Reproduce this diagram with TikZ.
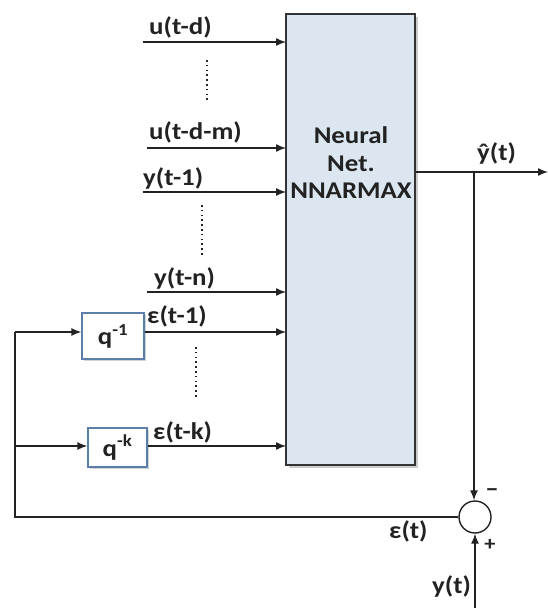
\documentclass[tikz,border=0pt]{standalone}
\usepackage{fontspec}
\setmainfont{Carlito}[FakeStretch=1.12]
\usetikzlibrary{arrows.meta,shadows}
\definecolor{boxblue}{HTML}{DCE6F1}
\definecolor{boxedge}{HTML}{5B7FA8}
\definecolor{ink}{HTML}{222222}
\tikzset{
  txt/.style={font=\fontsize{24}{28}\selectfont\bfseries, text=ink},
  lbl/.style={txt, inner sep=0pt, anchor=base west},
  sig/.style={line width=1.4pt, draw=ink, -{Latex[length=10pt,width=8pt]}},
  wire/.style={line width=1.4pt, draw=ink},
  dots/.style={line width=1.6pt, draw=ink, dash pattern=on 1.6pt off 3.2pt},
  qbox/.style={draw=boxedge, line width=1.3pt, fill=white, inner sep=0pt, txt,
               drop shadow={shadow xshift=2pt, shadow yshift=-2pt, opacity=0.35}},
}
\begin{document}
\begin{tikzpicture}[x=1pt,y=-1pt]
\useasboundingbox (0,0) rectangle (548,608);
% main box
\node[draw=black!80, line width=1.3pt, fill=boxblue, minimum width=129pt, minimum height=451pt, inner sep=0pt,
      drop shadow={shadow xshift=3pt, shadow yshift=-3pt, opacity=0.4}] (nn) at (350.5,239.5) {};
\node[align=center, txt, font=\fontsize{24}{27.5}\selectfont\bfseries] (nntext) at (351,163) {Neural\\Net.\\NNARMAX};
% input coordinates
\coordinate (a1s) at (143,42);  \coordinate (a1e) at (286,42);
\coordinate (a2s) at (147,148); \coordinate (a2e) at (286,148);
\coordinate (a3s) at (143,192); \coordinate (a3e) at (286,192);
\coordinate (a4s) at (147,292); \coordinate (a4e) at (286,292);
\draw[sig] (a1s) -- (a1e);
\draw[sig] (a2s) -- (a2e);
\draw[sig] (a3s) -- (a3e);
\draw[sig] (a4s) -- (a4e);
\node[lbl] (l1) at (149,34) {u(t-d)};
\node[lbl] (l2) at (149,139) {u(t-d-m)};
\node[lbl] (l3) at (143,185) {y(t-1)};
\node[lbl] (l4) at (154,285) {y(t-n)};
% dotted
\coordinate (d1a) at (207,60);  \coordinate (d1b) at (207,102);
\coordinate (d2a) at (202,205); \coordinate (d2b) at (202,256);
\coordinate (d3a) at (196,347); \coordinate (d3b) at (196,398);
\draw[dots] (d1a) -- (d1b);
\draw[dots] (d2a) -- (d2b);
\draw[dots] (d3a) -- (d3b);
% delay boxes
\node[qbox, minimum width=62pt, minimum height=46pt] (q1) at (113,336) {q\textsuperscript{-1}};
\node[qbox, minimum width=59pt, minimum height=39pt] (qk) at (117.5,447.5) {q\textsuperscript{-k}};
\coordinate (e1e) at (286,332);
\coordinate (eke) at (286,446);
\draw[sig] (q1.east |- e1e) -- (e1e);
\draw[sig] (qk.east |- eke) -- (eke);
\node[lbl] (l5) at (147,323) {ε(t-1)};
\node[lbl] (l6) at (153,439) {ε(t-k)};
% feedback
\node[draw=ink, line width=1.4pt, fill=white, circle, minimum size=32pt, inner sep=0pt] (sum) at (475,517) {};
\coordinate (fbl) at (15,517);
\coordinate (fb1) at (15,332);
\coordinate (fbk) at (15,446);
\draw[wire] (sum.west) -- (fbl) -- (fb1);
\draw[sig] (fb1) -- (q1.west |- fb1);
\draw[sig] (fbk) -- (qk.west |- fbk);
% output
\coordinate (out) at (548,172);
\coordinate (tap) at (474,172);
\draw[sig] (nn.east |- out) -- (out);
\draw[sig] (tap) -- (tap |- sum.north);
\node[lbl] (yhat) at (477,160) {ŷ(t)};
\coordinate (yin) at (475,608);
\draw[sig] (yin) -- (sum.south);
\node[lbl] (ylab) at (432,593) {y(t)};
\node[lbl] (elab) at (389,538) {ε(t)};
\node[txt, font=\fontsize{24}{24}\selectfont\bfseries, inner sep=0pt] (minus) at (492,493) {–};
\node[txt, font=\fontsize{20}{22}\selectfont\bfseries, inner sep=0pt] (plus) at (490,545) {+};
\end{tikzpicture}
\end{document}
